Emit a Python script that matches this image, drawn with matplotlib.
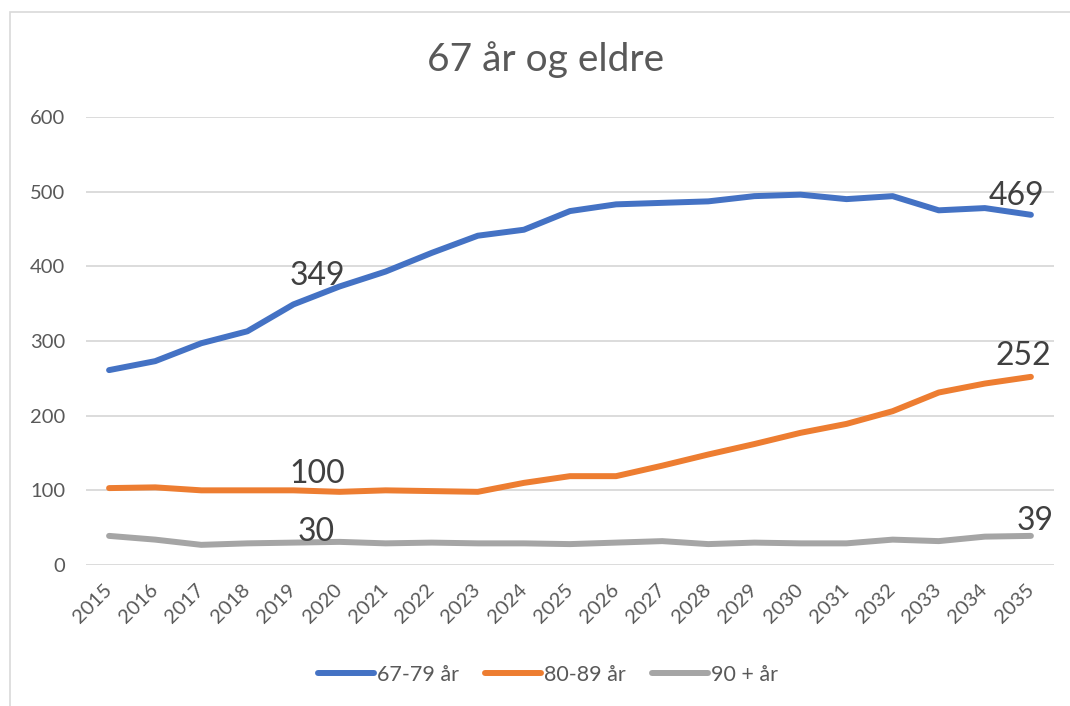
import matplotlib.pyplot as plt
from matplotlib.patches import Rectangle

# --- data ---
years = [str(y) for y in range(2015, 2036)]
age_67_79 = [261, 273, 297, 313, 349, 373, 393, 418, 441, 449, 474,
             483, 485, 487, 494, 496, 490, 494, 475, 478, 469]
age_80_89 = [103, 104, 100, 100, 100, 98, 100, 99, 98, 110, 119,
             119, 133, 148, 162, 177, 189, 206, 231, 243, 252]
age_90 = [39, 34, 27, 29, 30, 31, 29, 30, 29, 29, 28,
          30, 32, 28, 30, 29, 29, 34, 32, 38, 39]
series_names = ["67-79 år", "80-89 år", "90 + år"]
title = "67 år og eldre"

# labelled points: (series index, year index)
labelled = [(0, 4), (0, 20), (1, 4), (1, 20), (2, 4), (2, 20)]
label_offsets = [(24, 19), (-14, 10), (24, 7), (-8, 12), (23, 2), (4, 6)]

colors = ["#4472C4", "#ED7D31", "#A5A5A5"]
text_col = "#595959"
plt.rcParams['font.family'] = ['Lato', 'DejaVu Sans']

fig = plt.figure(figsize=(10.7, 7.06), dpi=100)
ax = fig.add_axes([0.0804, 0.1997, 0.9046, 0.6346])

all_series = [age_67_79, age_80_89, age_90]
x = list(range(len(years)))
for vals, name, c in zip(all_series, series_names, colors):
    ax.plot(x, vals, color=c, lw=4.3, label=name, solid_capstyle='round',
            solid_joinstyle='round')

for (si, yi), (dx, dy) in zip(labelled, label_offsets):
    v = all_series[si][yi]
    ax.annotate(str(v), (x[yi], v), xytext=(dx, dy), textcoords='offset pixels',
                ha='center', va='baseline', fontsize=23, color='#404040')

ax.set_xlim(-0.5, len(years) - 0.5)
ax.set_ylim(0, 600)
ax.set_yticks(range(0, 601, 100))
ax.set_xticks(x)
ax.set_xticklabels(years, rotation=45, ha='right', va='center',
                   rotation_mode='anchor')
ax.tick_params(axis='both', length=0, labelsize=14.5, labelcolor=text_col)
ax.tick_params(axis='y', pad=15)
ax.tick_params(axis='x', pad=16)
ax.grid(axis='y', color='#D9D9D9', lw=1.3)
ax.set_axisbelow(True)
for s in ax.spines.values():
    s.set_visible(False)

fig.text(0.510, 1 - 60 / 706, title, ha='center', va='center',
         fontsize=28, color=text_col)

fig.legend(loc='center', bbox_to_anchor=(0.512, 1 - 675 / 706), ncol=3,
           frameon=False, fontsize=15.5, labelcolor=text_col,
           handlelength=2.6, handletextpad=0.15, columnspacing=1.2)

# chart area border
fig.patches.append(Rectangle((10 / 1070, -0.05), 1.1, 1 - 12 / 706 + 0.05,
                             transform=fig.transFigure, fill=False,
                             edgecolor='#D9D9D9', lw=1.2))

fig.savefig("out.png", dpi=100)
